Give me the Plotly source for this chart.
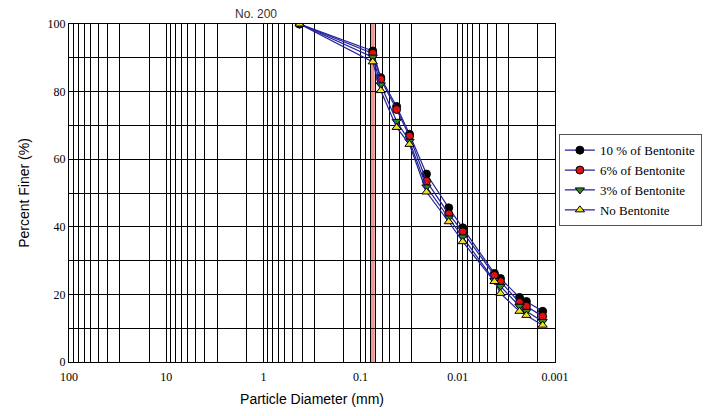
import plotly.graph_objects as go

diam = [0.425, 0.075, 0.062, 0.0426, 0.0314, 0.021, 0.0124, 0.0089, 0.0042, 0.00364, 0.00232, 0.00197, 0.00134]
b10 = [100, 92, 84.1, 75.6, 67.4, 55.6, 45.6, 39.7, 26.2, 24.7, 19.1, 17.9, 15.0]
b6 = [100, 91.3, 83.6, 74.7, 66.8, 53.5, 43.8, 38.5, 25.6, 23.8, 17.6, 16.5, 13.5]
b3 = [100, 90.2, 82.0, 71.2, 65.3, 51.8, 42.6, 37.0, 24.1, 22.4, 16.5, 15.0, 12.0]
b0 = [100, 88.8, 80.3, 69.4, 64.4, 50.3, 41.5, 35.6, 23.8, 20.3, 15.0, 13.8, 10.9]

names = ["10 % of Bentonite", "6% of Bentonite", "3% of Bentonite", "No Bentonite"]
series = [b10, b6, b3, b0]
mcolors = ["black", "#e01010", "#2e8b20", "#f0e020"]
symbols = ["circle", "circle", "triangle-down", "triangle-up"]

xtick_vals = [100, 10, 1, 0.1, 0.01, 0.001]
xtick_text = ["100", "10", "1", "0.1", "0.01", "0.001"]
minor_x = [d * k for d in [10, 1, 0.1, 0.01, 0.001] for k in (1.5, 3, 4, 5, 6, 7, 8, 9)]
sieve200 = 0.075

SERIF = "Liberation Serif"
SANS = "Liberation Sans"

fig = go.Figure()
for nm, ys, mc, sy in zip(names, series, mcolors, symbols):
    fig.add_trace(go.Scatter(
        x=diam, y=ys, name=nm, mode="lines+markers",
        line=dict(color="#23239a", width=1.2),
        marker=dict(color=mc, symbol=sy, size=8, line=dict(color="black", width=1)),
    ))

fig.add_shape(type="line", xref="x", yref="paper", x0=sieve200, x1=sieve200, y0=0, y1=1,
              line=dict(color="rgba(240,130,130,0.85)", width=4), layer="below")
fig.add_annotation(x=sieve200, y=1, xref="x", yref="paper", yanchor="bottom", text="No. 200",
                   showarrow=False, font=dict(family=SANS, size=12, color="#333"), yshift=1)

fig.update_layout(
    width=721, height=416,
    margin=dict(l=69, r=166, t=24, b=52),
    paper_bgcolor="white", plot_bgcolor="white",
    showlegend=True,
    legend=dict(x=1.008, y=0.674, xanchor="left", yanchor="top",
                bordercolor="#555", borderwidth=1,
                font=dict(family=SERIF, size=13, color="black"),
                tracegroupgap=0, itemwidth=30),
)
fig.update_xaxes(
    type="log", range=[2, -3], tickvals=xtick_vals, ticktext=xtick_text,
    showgrid=True, gridcolor="black", gridwidth=1,
    minor=dict(tickvals=minor_x, showgrid=True, gridcolor="black", gridwidth=1),
    showline=True, linecolor="black", mirror=True, ticks="", ticklabelstandoff=4,
    tickfont=dict(family=SERIF, size=12, color="black"),
    title=dict(text="Particle Diameter (mm)", font=dict(family=SANS, size=14, color="black"), standoff=10),
    zeroline=False,
)
fig.update_yaxes(
    range=[0, 100], tickvals=[0, 20, 40, 60, 80, 100],
    showgrid=True, gridcolor="black", gridwidth=1,
    minor=dict(tickvals=[10, 30, 50, 70, 90], showgrid=True, gridcolor="black", gridwidth=1),
    showline=True, linecolor="black", mirror=True, ticks="",
    tickfont=dict(family=SERIF, size=12, color="black"),
    title=dict(text="Percent Finer (%)", font=dict(family=SANS, size=14, color="black"), standoff=14),
    zeroline=False,
)

fig.write_html("out.html")
